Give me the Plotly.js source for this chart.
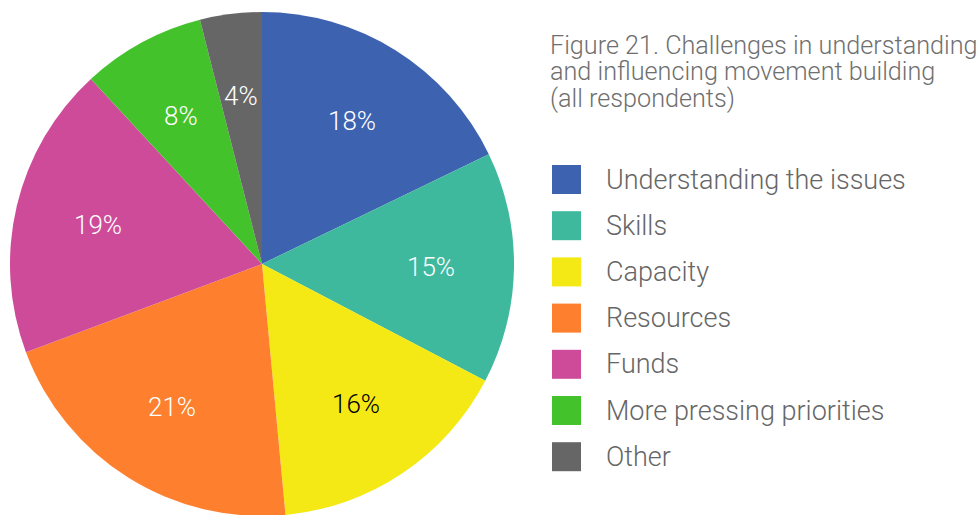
<!DOCTYPE html>
<html>
<head>
<meta charset="utf-8">
<script src="https://cdn.plot.ly/plotly-3.0.1.min.js"></script>
<style>
html, body { margin: 0; padding: 0; overflow: hidden; background: #fff; }
#chart { width: 980px; height: 520px; }
</style>
</head>
<body>
<div id="chart"></div>
<script>
// ---- data ----
const categories = ["Understanding the issues", "Skills", "Capacity", "Resources", "Funds", "More pressing priorities", "Other"];
const values = [18, 15, 16, 21, 19, 8, 4];
const colors = ["#3D63B0", "#3EB99D", "#F4E914", "#FE7F2D", "#CE4B9A", "#44C22C", "#666666"];
const labelColors = ["#ffffff", "#ffffff", "#000000", "#ffffff", "#ffffff", "#ffffff", "#ffffff"];
const titleLines = ["Figure 21. Challenges in understanding", "and influencing movement building", "(all respondents)"];

// ---- layout helpers (pixel -> paper) ----
const W = 980, H = 520;
const fx = px => px / W;
const fy = py => (H - py) / H;

// pie geometry (domain in pixels)
const pieL = 10, pieR = 514, pieT = 12, pieB = 516;
const cx = (pieL + pieR) / 2, cy = (pieT + pieB) / 2, rad = (pieR - pieL) / 2;

const trace = {
  type: "pie",
  labels: categories,
  values: values,
  sort: false,
  direction: "clockwise",
  rotation: 0,
  marker: { colors: colors, line: { width: 0 } },
  textinfo: "none",
  hoverinfo: "none",
  showlegend: false,
  domain: { x: [fx(pieL), fx(pieR)], y: [fy(pieB), fy(pieT)] }
};

const shapes = [];
const annotations = [];

// slice labels placed at each slice's mid-angle (derived from the values)
const total = values.reduce((a, b) => a + b, 0);
const labelR = 0.67;
let cum = 0;
values.forEach((v, i) => {
  const mid = (cum + v / 2) / total * 2 * Math.PI;
  cum += v;
  const px = cx + labelR * rad * Math.sin(mid);
  const py = cy - labelR * rad * Math.cos(mid);
  annotations.push({
    xref: "paper", yref: "paper", x: fx(px), y: fy(py),
    xanchor: "center", yanchor: "middle", showarrow: false,
    text: v + "%", font: { family: "Roboto", size: 26, color: labelColors[i], weight: 300 }
  });
});

// custom legend built from the arrays
const legTop = 165, legStep = 46.2, sq = 29;
categories.forEach((c, i) => {
  const y0 = legTop + i * legStep;
  shapes.push({
    type: "rect", xref: "paper", yref: "paper",
    x0: fx(552), x1: fx(552 + sq), y0: fy(y0 + sq), y1: fy(y0),
    fillcolor: colors[i], line: { width: 0 }
  });
  annotations.push({
    xref: "paper", yref: "paper", x: fx(604), y: fy(y0 + sq / 2),
    xanchor: "left", yanchor: "middle", showarrow: false,
    text: c, font: { family: "Roboto", size: 27, color: "#666666", weight: 300 }
  });
});

const layout = {
  width: W, height: H,
  margin: { l: 0, r: 0, t: 0, b: 0 },
  paper_bgcolor: "#ffffff",
  showlegend: false,
  title: {
    // base size sets the line spacing; span sets the glyph size
    text: titleLines.map(t => '<span style="font-size:25.2px">' + t + '</span>').join("<br>"),
    x: fx(550), xanchor: "left", xref: "paper",
    y: fy(53.5), yanchor: "top", yref: "paper",
    font: { family: "Roboto", size: 20.4, color: "#6f6f6f", weight: 300 }
  },
  shapes: shapes,
  annotations: annotations
};

Plotly.newPlot("chart", [trace], layout, { displayModeBar: false, staticPlot: true });
</script>
</body>
</html>
